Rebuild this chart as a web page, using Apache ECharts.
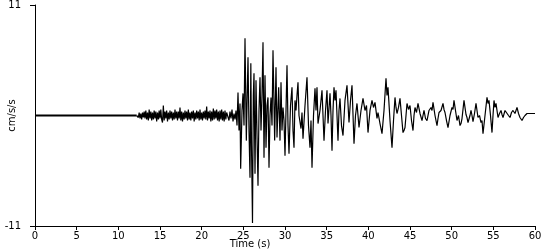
<!DOCTYPE html>
<html>
<head>
<meta charset="utf-8">
<script src="https://cdn.jsdelivr.net/npm/echarts@6/dist/echarts.min.js"></script>
<style>html,body{margin:0;padding:0;background:#fff}#c{width:550px;height:250px}</style>
</head>
<body>
<div id="c"></div>
<script>
// Quiet pre-event record (s, cm/s/s)
var quietTime = [0, 12.2];
var quietAccel = [0, 0];

// Low-level noise 12.3 s .. 23.0 s, sampled every 0.1 s
var noiseStart = 12.3;
var noiseStep = 0.1;
var noiseAccel = [
  0.1,-0.2,0.3,-0.3,0.2,-0.4,0.3,-0.2,0.4,-0.3,
  0.5,-0.4,0.3,-0.5,0.6,-0.3,0.4,-0.5,0.3,-0.4,
  0.5,-0.3,0.4,-0.6,0.3,-0.4,0.5,-0.3,0.6,-0.4,
  -0.7,1.0,-0.5,0.4,-0.3,0.5,-0.6,0.3,-0.4,0.5,
  -0.3,0.4,-0.5,0.3,-0.4,0.6,-0.3,0.4,-0.5,0.4,
  -0.3,0.8,-0.5,0.4,-0.6,0.3,-0.4,0.5,-0.3,0.4,
  -0.5,0.6,-0.4,0.3,-0.5,0.4,-0.3,0.5,-0.6,0.3,
  -0.4,0.5,-0.3,0.4,-0.5,0.6,-0.4,0.3,-0.5,0.4,
  -0.3,0.5,-0.4,0.9,-0.5,0.4,-0.3,0.5,-0.6,0.4,
  -0.5,0.7,-0.4,0.5,-0.3,0.6,-0.5,0.4,-0.6,0.5,
  -0.4,0.6,-0.5,0.4,-0.6,0.5,-0.4,0.3
];

// Strong motion and coda (s, cm/s/s)
var strongTime = [
  23.16,23.28,23.40,23.52,23.64,23.76,23.88,24.00,24.12,24.24,24.36,24.48,24.60,24.68,24.84,24.96,
  25.08,25.20,25.36,25.44,25.56,25.68,25.80,25.90,25.98,26.10,26.20,26.28,26.40,26.52,26.64,26.76,
  26.88,27.00,27.12,27.24,27.36,27.48,27.60,27.72,27.84,27.96,28.08,28.20,28.32,28.44,28.56,28.76,
  28.92,29.04,29.24,29.40,29.52,29.64,29.76,29.88,30.00,30.24,30.36,30.48,30.66,30.84,30.96,31.08,
  31.20,31.32,31.44,31.56,31.68,31.92,32.04,32.16,32.40,32.64,32.82,33.00,33.12,33.24,33.42,33.60,
  33.72,33.84,33.96,34.20,34.44,34.56,34.68,34.86,35.04,35.16,35.40,35.52,35.64,35.76,35.88,36.00,
  36.12,36.24,36.36,36.48,36.60,36.78,36.96,37.20,37.44,37.68,37.86,38.04,38.28,38.46,38.64,38.88,
  39.12,39.36,39.60,39.78,39.96,40.20,40.44,40.62,40.80,41.04,41.16,41.40,41.64,41.88,42.12,42.24,
  42.36,42.60,42.84,43.02,43.20,43.32,43.44,43.62,43.80,43.98,44.16,44.28,44.40,44.64,44.82,45.00,
  45.18,45.36,45.48,45.60,45.78,45.96,46.20,46.44,46.56,46.68,46.86,47.04,47.28,47.52,47.64,47.76,
  48.00,48.24,48.36,48.48,48.72,48.96,49.08,49.20,49.38,49.56,49.80,50.04,50.16,50.28,50.46,50.64,
  50.82,51.00,51.12,51.24,51.48,51.60,51.72,51.84,51.96,52.20,52.32,52.44,52.56,52.74,52.92,53.04,
  53.16,53.34,53.52,53.64,53.76,54.00,54.24,54.36,54.48,54.66,54.84,54.96,55.08,55.20,55.32,55.44,
  55.56,55.74,55.92,56.04,56.16,56.40,56.64,56.82,57.00,57.18,57.36,57.60,57.84,58.02,58.20,58.32,
  58.44,58.62,58.80,59.04,59.40,60.00
];
var strongAccel = [
  0.3,-0.5,0.4,-0.3,0.6,-0.6,0.2,-0.4,0.5,-1.0,2.3,-1.5,1.2,-5.3,0.5,2.2,
  -1.0,7.7,-2.5,1.0,5.8,-1.5,-6.2,5.2,-3.0,-10.7,2.0,4.2,-5.8,3.5,-2.0,-7.0,
  0.5,3.8,-1.5,2.0,7.3,-4.2,4.0,-3.2,1.0,1.8,-5.2,0.0,1.8,-1.0,6.5,-2.5,
  4.8,-2.2,2.8,-2.5,3.3,-1.5,0.8,-0.5,-4.0,5.0,-1.0,-3.8,1.0,2.8,-1.5,-3.2,
  1.5,0.5,2.0,3.3,0.0,-1.3,0.3,-2.3,1.0,3.8,-1.0,-3.2,-0.5,-5.2,0.0,2.7,
  0.5,2.8,-0.8,0.5,2.5,0.0,-2.5,0.5,2.5,-0.8,2.2,0.0,-3.5,0.5,2.8,1.5,
  2.5,0.0,-2.5,0.5,1.7,-1.0,-2.0,1.5,3.0,-0.7,1.5,3.0,-2.8,0.0,1.2,-1.2,
  0.5,1.7,0.5,1.0,-1.7,0.5,1.5,0.8,1.3,-0.3,0.3,-0.8,-1.8,0.5,3.7,2.0,
  2.8,-0.5,-3.2,-0.5,1.8,0.8,0.2,0.8,1.7,0.0,-1.7,-1.5,-1.2,1.2,0.6,1.0,
  -0.5,-1.5,0.0,0.8,0.3,1.2,0.2,-0.5,0.0,0.5,-0.3,-0.5,0.5,0.8,0.5,1.3,
  0.0,-1.0,-0.3,0.3,0.5,1.2,0.6,0.3,-0.5,-1.2,0.0,0.8,0.6,1.5,0.5,-0.5,
  0.0,-1.0,-0.8,-0.3,1.5,0.8,0.1,-0.2,-0.7,0.0,0.5,0.0,-0.6,0.2,1.2,0.5,
  -0.2,0.0,-0.7,-0.5,-1.8,0.0,1.8,1.2,1.5,0.0,-1.7,0.0,1.5,0.8,1.2,0.5,
  -0.2,0.2,0.5,0.1,-0.2,0.5,0.5,0.0,-0.2,0.3,0.5,0.2,0.8,0.2,-0.2,-0.1,
  -0.5,-0.2,0.0,0.2,0.2,0.2
];

// Axis settings
var xMin = 0, xMax = 60, xStep = 5;
var yMin = -11, yMax = 11;

var quietPts = [];
for (var i = 0; i < quietTime.length; i++) quietPts.push([quietTime[i], quietAccel[i]]);
var pts = [];
for (var j = 0; j < noiseAccel.length; j++) pts.push([+(noiseStart + j * noiseStep).toFixed(2), noiseAccel[j]]);
for (var k = 0; k < strongTime.length; k++) pts.push([strongTime[k], strongAccel[k]]);
pts.unshift(quietPts[quietPts.length - 1]);

var font = 'DejaVu Sans';
var chart = echarts.init(document.getElementById('c'), null, {renderer: 'canvas'});
chart.setOption({
  animation: false,
  backgroundColor: '#fff',
  grid: {left: 35, right: 15, top: 5, bottom: 24, containLabel: false, outerBoundsMode: 'none'},
  xAxis: {
    type: 'value', min: xMin, max: xMax, interval: xStep,
    name: 'Time (s)', nameLocation: 'middle', nameGap: 13, nameMoveOverlap: false,
    nameTextStyle: {color: '#000', fontFamily: font, fontSize: 10, padding: [0, 70, 0, 0]},
    axisLine: {onZero: false, lineStyle: {color: '#000', width: 1}},
    axisTick: {show: true, length: 4, lineStyle: {color: '#000'}},
    axisLabel: {color: '#000', fontFamily: font, fontSize: 10, margin: 5},
    splitLine: {show: false}
  },
  yAxis: {
    type: 'value', min: yMin, max: yMax, interval: yMax - yMin,
    name: 'cm/s/s', nameLocation: 'middle', nameGap: 18, nameRotate: 90, nameMoveOverlap: false,
    nameTextStyle: {color: '#000', fontFamily: font, fontSize: 10},
    axisLine: {show: true, onZero: false, lineStyle: {color: '#000', width: 1}},
    axisTick: {show: true, length: 5, lineStyle: {color: '#000'}},
    axisLabel: {color: '#000', fontFamily: font, fontSize: 10, margin: 14},
    splitLine: {show: false}
  },
  series: [{
    type: 'line', data: quietPts, showSymbol: false, symbol: 'none',
    lineStyle: {color: '#000', width: 2}, silent: true
  }, {
    type: 'line', data: pts, showSymbol: false, symbol: 'none',
    lineStyle: {color: '#000', width: 1.2}, silent: true
  }]
});
</script>
</body>
</html>
